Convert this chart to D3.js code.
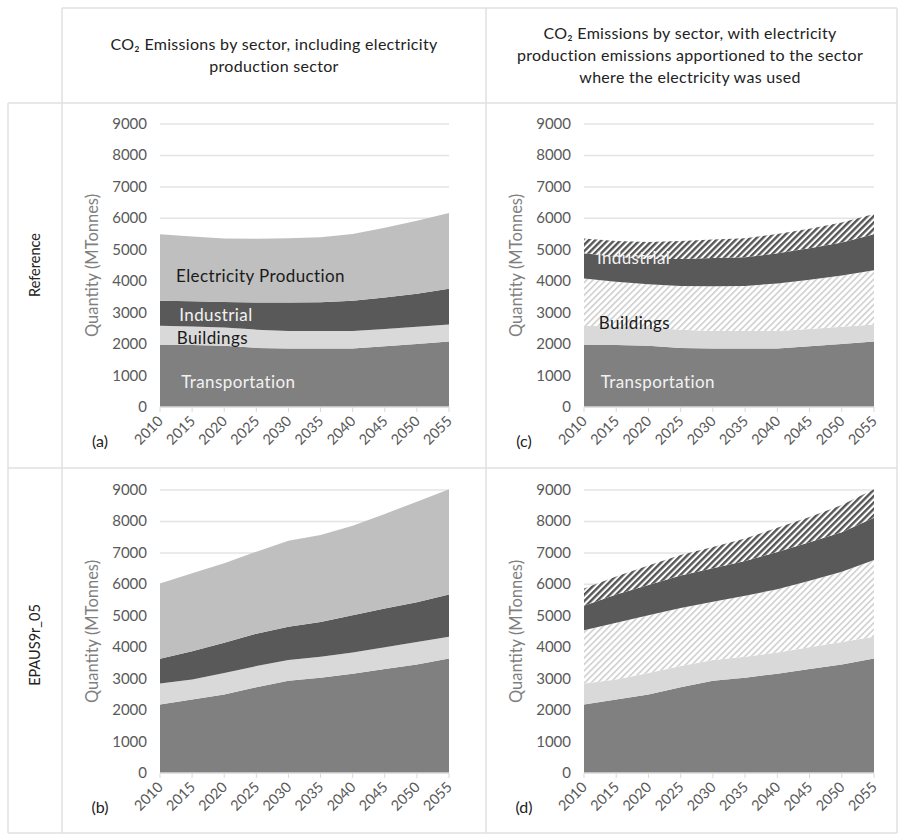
<!DOCTYPE html>
<html>
<head>
<meta charset="utf-8">
<script src="https://cdn.jsdelivr.net/npm/d3@7"></script>
<style>
  body { margin: 0; background: #fff; }
  text { font-family: Lato, "Open Sans", sans-serif; }
</style>
</head>
<body>
<svg id="chart" width="898" height="834"></svg>
<script>
// years on the x axis
const years = [2010, 2015, 2020, 2025, 2030, 2035, 2040, 2045, 2050, 2055];
const yTicks = [0, 1000, 2000, 3000, 4000, 5000, 6000, 7000, 8000, 9000];

// Reference scenario (MTonnes)
const refTransport   = [1980, 1970, 1950, 1880, 1860, 1860, 1860, 1930, 2000, 2080];
const refBuildings   = [600, 590, 580, 580, 560, 560, 560, 550, 550, 540];
const refIndustrial  = [800, 800, 810, 860, 900, 910, 960, 1000, 1050, 1140];
const refElectricity = [2110, 2060, 2020, 2030, 2050, 2070, 2120, 2220, 2320, 2410];
const refBuildingsElec  = [1510, 1420, 1370, 1390, 1420, 1430, 1510, 1570, 1630, 1730];
const refIndustrialElec = [470, 500, 540, 570, 590, 610, 610, 620, 640, 650];

// EPAUS9r_05 scenario (MTonnes)
const epaTransport   = [2180, 2340, 2500, 2730, 2930, 3030, 3160, 3310, 3450, 3640];
const epaBuildings   = [670, 630, 680, 670, 660, 670, 670, 690, 720, 690];
const epaIndustrial  = [780, 900, 960, 1030, 1060, 1100, 1190, 1230, 1260, 1350];
const epaElectricity = [2400, 2480, 2530, 2610, 2740, 2770, 2840, 3010, 3200, 3340];
const epaBuildingsElec  = [1690, 1810, 1840, 1850, 1860, 1940, 2010, 2110, 2230, 2440];
const epaIndustrialElec = [550, 570, 620, 650, 680, 720, 770, 800, 860, 900];

// table texts
const colHeaders = [
  ["CO\u2082 Emissions by sector, including  electricity", "production sector"],
  ["CO\u2082 Emissions by sector, with electricity", "production emissions apportioned to the sector", "where the electricity was used"]
];
const rowHeaders = ["Reference", "EPAUS9r_05"];

const svg = d3.select("#chart");

// hatch patterns
const defs = svg.append("defs");
function hatch(id, bg, fg, w) {
  let p = defs.append("pattern")
    .attr("id", id)
    .attr("patternUnits", "userSpaceOnUse")
    .attr("width", 4.5).attr("height", 4.5)
    .attr("patternTransform", "rotate(45)");
  p.append("rect").attr("width", 4.5).attr("height", 4.5).attr("fill", bg);
  p.append("rect").attr("width", w).attr("height", 4.5).attr("fill", fg);
}
hatch("hatchLight", "#ffffff", "#cfcfcf", 1.6);
hatch("hatchDark", "#ffffff", "#555555", 2.4);

const fills = {
  transport: "#808080",
  buildings: "#d9d9d9",
  buildingsElec: "url(#hatchLight)",
  industrial: "#595959",
  industrialElec: "url(#hatchDark)",
  electricity: "#bfbfbf"
};

// table grid
const lineColor = "#e0e0e0";
let grid = svg.append("g").attr("stroke", lineColor).attr("stroke-width", 1.5);
grid.append("line").attr("x1", 62).attr("x2", 897).attr("y1", 8).attr("y2", 8);
grid.append("line").attr("x1", 8).attr("x2", 897).attr("y1", 103).attr("y2", 103);
grid.append("line").attr("x1", 8).attr("x2", 897).attr("y1", 468).attr("y2", 468);
grid.append("line").attr("x1", 8).attr("x2", 897).attr("y1", 833).attr("y2", 833);
grid.append("line").attr("x1", 8).attr("x2", 8).attr("y1", 103).attr("y2", 833);
grid.append("line").attr("x1", 62).attr("x2", 62).attr("y1", 8).attr("y2", 833);
grid.append("line").attr("x1", 486).attr("x2", 486).attr("y1", 8).attr("y2", 833);
grid.append("line").attr("x1", 897).attr("x2", 897).attr("y1", 8).attr("y2", 833);

// column headers
const headerCenters = [[274, 56], [690, 56]];
colHeaders.forEach(function(lines, i) {
  let t = svg.append("text")
    .attr("text-anchor", "middle")
    .attr("font-size", 16)
    .attr("letter-spacing", 0.3)
    .attr("fill", "#222");
  let y0 = headerCenters[i][1] - (lines.length - 1) * 22 / 2;
  lines.forEach(function(l, j) {
    t.append("tspan")
      .attr("x", headerCenters[i][0])
      .attr("y", y0 + j * 22 + 5)
      .text(l);
  });
});

// row headers
const rowCenters = [265, 645];
rowHeaders.forEach(function(r, i) {
  svg.append("text")
    .attr("transform", "translate(40," + rowCenters[i] + ") rotate(-90)")
    .attr("text-anchor", "middle")
    .attr("font-size", 14.5)
    .attr("fill", "#222")
    .text(r);
});

function rows(series) {
  return years.map(function(y, i) {
    let r = { year: y };
    Object.keys(series).forEach(function(k) { r[k] = series[k][i]; });
    return r;
  });
}

const panels = [
  { tag: "(a)", left: 160, right: 449, top: 124, bottom: 407,
    keys: ["transport", "buildings", "industrial", "electricity"],
    data: { transport: refTransport, buildings: refBuildings, industrial: refIndustrial, electricity: refElectricity },
    labels: [
      { text: "Electricity Production", year: 2012.5, value: 3975, color: "#1a1a1a" },
      { text: "Industrial", year: 2013, value: 2735, color: "#f2f2f2" },
      { text: "Buildings", year: 2012.6, value: 2000, color: "#1a1a1a" },
      { text: "Transportation", year: 2013.3, value: 600, color: "#f2f2f2" }
    ] },
  { tag: "(c)", left: 584, right: 874, top: 124, bottom: 407,
    keys: ["transport", "buildings", "buildingsElec", "industrial", "industrialElec"],
    data: { transport: refTransport, buildings: refBuildings, buildingsElec: refBuildingsElec,
            industrial: refIndustrial, industrialElec: refIndustrialElec },
    labels: [
      { text: "Industrial", year: 2012, value: 4550, color: "#f2f2f2" },
      { text: "Buildings", year: 2012.3, value: 2480, color: "#1a1a1a" },
      { text: "Transportation", year: 2012.6, value: 600, color: "#f2f2f2" }
    ] },
  { tag: "(b)", left: 160, right: 449, top: 490, bottom: 773,
    keys: ["transport", "buildings", "industrial", "electricity"],
    data: { transport: epaTransport, buildings: epaBuildings, industrial: epaIndustrial, electricity: epaElectricity },
    labels: [] },
  { tag: "(d)", left: 584, right: 874, top: 490, bottom: 773,
    keys: ["transport", "buildings", "buildingsElec", "industrial", "industrialElec"],
    data: { transport: epaTransport, buildings: epaBuildings, buildingsElec: epaBuildingsElec,
            industrial: epaIndustrial, industrialElec: epaIndustrialElec },
    labels: [] }
];

panels.forEach(function(p) {
  let x = d3.scaleLinear().domain([2010, 2055]).range([p.left, p.right]);
  let y = d3.scaleLinear().domain([0, 9000]).range([p.bottom, p.top]);
  let g = svg.append("g");

  // gridlines
  g.selectAll("line.grid")
    .data(yTicks.slice(1))
    .enter().append("line")
    .attr("class", "grid")
    .attr("x1", p.left).attr("x2", p.right)
    .attr("y1", function(d) { return y(d); })
    .attr("y2", function(d) { return y(d); })
    .attr("stroke", "#e4e4e4").attr("stroke-width", 1.5);

  // stacked areas
  let stacked = d3.stack().keys(p.keys)(rows(p.data));
  let area = d3.area()
    .x(function(d) { return x(d.data.year); })
    .y0(function(d) { return y(d[0]); })
    .y1(function(d) { return y(d[1]); });
  g.selectAll("path.layer")
    .data(stacked)
    .enter().append("path")
    .attr("class", "layer")
    .attr("d", area)
    .attr("fill", function(d) { return fills[d.key]; });

  // x axis baseline and ticks
  g.append("line")
    .attr("x1", p.left).attr("x2", p.right)
    .attr("y1", y(0)).attr("y2", y(0))
    .attr("stroke", "#d9d9d9").attr("stroke-width", 1.5);
  g.selectAll("line.tick")
    .data(years)
    .enter().append("line")
    .attr("class", "tick")
    .attr("x1", function(d) { return x(d); }).attr("x2", function(d) { return x(d); })
    .attr("y1", y(0)).attr("y2", y(0) + 5)
    .attr("stroke", "#d9d9d9");

  // y tick labels
  g.selectAll("text.ylab")
    .data(yTicks)
    .enter().append("text")
    .attr("class", "ylab")
    .attr("x", p.left - 13)
    .attr("y", function(d) { return y(d) + 5; })
    .attr("text-anchor", "end")
    .attr("font-size", 15)
    .attr("fill", "#595959")
    .text(function(d) { return d; });

  // x tick labels
  g.selectAll("text.xlab")
    .data(years)
    .enter().append("text")
    .attr("class", "xlab")
    .attr("transform", function(d) { return "translate(" + (x(d) + 4) + "," + (y(0) + 15) + ") rotate(-45)"; })
    .attr("text-anchor", "end")
    .attr("font-size", 14.5)
    .attr("fill", "#595959")
    .text(function(d) { return d; });

  // y axis title
  g.append("text")
    .attr("transform", "translate(" + (p.left - 62) + "," + ((p.top + p.bottom) / 2) + ") rotate(-90)")
    .attr("text-anchor", "middle")
    .attr("font-size", 16.5)
    .attr("fill", "#7f7f7f")
    .text("Quantity (MTonnes)");

  // panel tag
  g.append("text")
    .attr("x", p.left - 60)
    .attr("y", p.bottom + 40)
    .attr("text-anchor", "middle")
    .attr("font-size", 16)
    .attr("fill", "#222")
    .text(p.tag);

  // series labels
  g.selectAll("text.slab")
    .data(p.labels)
    .enter().append("text")
    .attr("class", "slab")
    .attr("x", function(d) { return x(d.year); })
    .attr("y", function(d) { return y(d.value); })
    .attr("font-size", 17)
    .attr("letter-spacing", 0.4)
    .attr("fill", function(d) { return d.color; })
    .text(function(d) { return d.text; });
});
</script>
</body>
</html>
